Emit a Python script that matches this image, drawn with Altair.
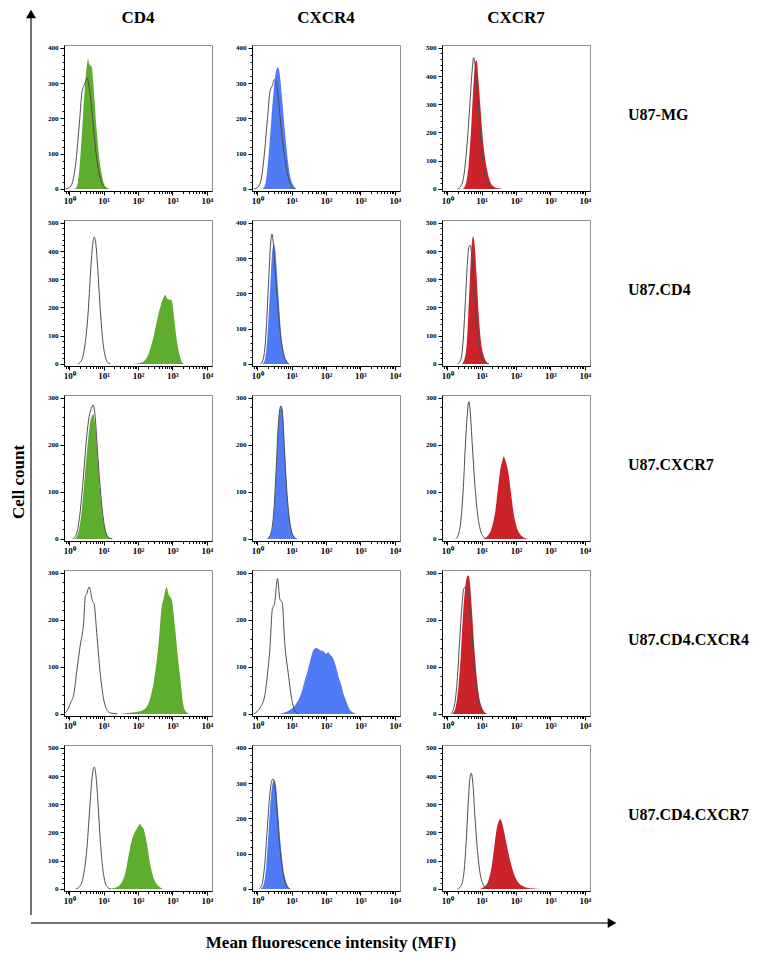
import math
import altair as alt
import pandas as pd

SERIF = "Liberation Serif"

MARKERS = ["CD4", "CXCR4", "CXCR7"]
CELL_LINES = ["U87-MG", "U87.CD4", "U87.CXCR7", "U87.CD4.CXCR4", "U87.CD4.CXCR7"]
MARKER_COLORS = ["#5fad2e", "#4f7cf6", "#cc2229"]
ISO_COLOR = "#4d4d4d"

# y-axis maximum of each panel (rows = cell lines)
YMAX_CD4 = [400, 500, 300, 300, 500]
YMAX_CXCR4 = [400, 400, 300, 300, 400]
YMAX_CXCR7 = [500, 500, 300, 300, 500]

X_TITLE = "Mean fluorescence intensity (MFI)"
Y_TITLE = "Cell count"

# ---- histograms: (log10 fluorescence, cell count) ----
# Row 1: U87-MG
CD4_U87MG = [(0.15, 0), (0.22, 5), (0.3, 60), (0.38, 170), (0.45, 280), (0.5, 340), (0.55, 368), (0.58, 355),
             (0.62, 350), (0.66, 345), (0.7, 300), (0.78, 190), (0.86, 100), (0.95, 40), (1.02, 12), (1.12, 2), (1.2, 0)]
ISO_CD4_U87MG = [(-0.1, 0), (0.0, 3), (0.1, 20), (0.2, 80), (0.3, 190), (0.38, 280), (0.42, 290), (0.48, 305),
                 (0.52, 315), (0.56, 300), (0.62, 260), (0.7, 180), (0.78, 100), (0.88, 40), (0.98, 10), (1.08, 0)]
CXCR4_U87MG = [(0.15, 0), (0.22, 8), (0.3, 60), (0.4, 180), (0.48, 280), (0.55, 335), (0.6, 345), (0.65, 330),
               (0.72, 260), (0.8, 170), (0.88, 90), (0.96, 35), (1.05, 10), (1.15, 0)]
ISO_CXCR4_U87MG = [(-0.1, 0), (0.0, 3), (0.1, 20), (0.2, 90), (0.3, 200), (0.38, 280), (0.43, 290), (0.5, 310),
                   (0.55, 300), (0.62, 250), (0.7, 170), (0.8, 90), (0.9, 35), (1.0, 8), (1.1, 0)]
CXCR7_U87MG = [(0.45, 0), (0.55, 20), (0.62, 80), (0.7, 220), (0.77, 380), (0.82, 450), (0.86, 455), (0.9, 400),
               (0.96, 300), (1.02, 200), (1.1, 110), (1.18, 55), (1.26, 22), (1.36, 8), (1.5, 2), (1.62, 0)]
ISO_CXCR7_U87MG = [(0.3, 0), (0.4, 10), (0.5, 60), (0.58, 160), (0.66, 300), (0.72, 410), (0.77, 465), (0.8, 450),
                   (0.85, 380), (0.92, 260), (1.0, 140), (1.08, 60), (1.16, 20), (1.25, 4), (1.35, 0)]

# Row 2: U87.CD4
CD4_U87CD4 = [(1.85, 0), (2.05, 3), (2.25, 20), (2.45, 95), (2.6, 180), (2.68, 215), (2.74, 235), (2.8, 245),
              (2.84, 232), (2.9, 228), (2.98, 225), (3.06, 150), (3.12, 90), (3.2, 35), (3.28, 5), (3.35, 0)]
ISO_CD4_U87CD4 = [(0.25, 0), (0.35, 10), (0.45, 60), (0.55, 180), (0.62, 320), (0.68, 420), (0.73, 450), (0.78, 420),
                  (0.84, 320), (0.9, 200), (0.97, 90), (1.05, 25), (1.12, 5), (1.2, 0)]
CXCR4_U87CD4 = [(0.15, 0), (0.22, 10), (0.3, 80), (0.38, 220), (0.44, 320), (0.49, 340), (0.53, 320), (0.58, 250),
                (0.64, 160), (0.7, 80), (0.78, 30), (0.86, 8), (0.95, 0)]
ISO_CXCR4_U87CD4 = [(0.1, 0), (0.18, 15), (0.26, 90), (0.33, 230), (0.39, 340), (0.43, 368), (0.47, 340), (0.53, 260),
                    (0.6, 170), (0.67, 90), (0.75, 35), (0.84, 8), (0.92, 0)]
CXCR7_U87CD4 = [(0.42, 0), (0.5, 15), (0.58, 90), (0.64, 250), (0.7, 400), (0.75, 452), (0.8, 420), (0.86, 300),
                (0.92, 170), (0.98, 80), (1.06, 30), (1.14, 8), (1.25, 0)]
ISO_CXCR7_U87CD4 = [(0.3, 0), (0.38, 10), (0.45, 60), (0.52, 200), (0.58, 340), (0.63, 415), (0.67, 420), (0.72, 380),
                    (0.78, 280), (0.85, 160), (0.92, 70), (1.0, 20), (1.1, 3), (1.2, 0)]

# Row 3: U87.CXCR7
CD4_U87CXCR7 = [(0.15, 0), (0.25, 10), (0.35, 50), (0.45, 130), (0.55, 210), (0.63, 255), (0.7, 265), (0.76, 240),
                (0.83, 170), (0.9, 100), (0.98, 45), (1.06, 15), (1.15, 3), (1.25, 0)]
ISO_CD4_U87CXCR7 = [(0.1, 0), (0.2, 8), (0.3, 45), (0.4, 120), (0.5, 210), (0.58, 260), (0.65, 278), (0.7, 285),
                    (0.75, 265), (0.82, 190), (0.9, 110), (0.98, 50), (1.06, 15), (1.15, 3), (1.25, 0)]
CXCR4_U87CXCR7 = [(0.3, 0), (0.4, 10), (0.48, 50), (0.55, 140), (0.6, 220), (0.65, 270), (0.7, 280), (0.74, 270),
                  (0.8, 190), (0.86, 110), (0.93, 50), (1.0, 18), (1.08, 5), (1.15, 0)]
ISO_CXCR4_U87CXCR7 = [(0.3, 0), (0.4, 12), (0.48, 55), (0.55, 145), (0.6, 225), (0.65, 272), (0.69, 283), (0.73, 272),
                      (0.79, 195), (0.85, 115), (0.92, 52), (0.99, 18), (1.07, 4), (1.15, 0)]
CXCR7_U87CXCR7 = [(1.05, 0), (1.2, 8), (1.3, 25), (1.4, 60), (1.48, 110), (1.55, 150), (1.6, 165), (1.64, 175),
                  (1.68, 170), (1.72, 160), (1.78, 140), (1.85, 100), (1.92, 60), (2.0, 30), (2.1, 12), (2.2, 4), (2.35, 0)]
ISO_CXCR7_U87CXCR7 = [(0.25, 0), (0.33, 10), (0.4, 40), (0.47, 110), (0.53, 200), (0.58, 260), (0.63, 292), (0.67, 270),
                      (0.73, 200), (0.8, 120), (0.88, 55), (0.96, 20), (1.05, 5), (1.15, 0)]

# Row 4: U87.CD4.CXCR4
CD4_U87CD4CXCR4 = [(1.45, 0), (1.7, 2), (1.97, 4), (2.21, 11), (2.35, 32), (2.5, 88), (2.6, 152), (2.69, 229),
                   (2.74, 243), (2.8, 265), (2.83, 270), (2.89, 254), (2.98, 243), (3.08, 180), (3.16, 120), (3.23, 74),
                   (3.32, 18), (3.4, 4), (3.5, 0)]
ISO_CD4_U87CD4CXCR4 = [(-0.15, 0), (-0.05, 8), (0.05, 25), (0.13, 40), (0.22, 90), (0.32, 145), (0.42, 194), (0.47, 250),
                       (0.51, 255), (0.58, 270), (0.62, 262), (0.66, 245), (0.73, 232), (0.8, 173), (0.9, 88), (1.0, 32),
                       (1.1, 8), (1.2, 2), (1.4, 0)]
CXCR4_U87CD4CXCR4 = [(0.6, 0), (0.8, 3), (0.95, 8), (1.1, 18), (1.2, 30), (1.29, 46), (1.38, 70), (1.48, 95), (1.58, 124),
                     (1.65, 138), (1.72, 140), (1.78, 138), (1.85, 135), (1.92, 134), (2.0, 128), (2.06, 131), (2.13, 125),
                     (2.21, 118), (2.31, 95), (2.38, 75), (2.45, 60), (2.52, 40), (2.6, 25), (2.68, 10), (2.76, 4), (2.9, 0)]
ISO_CXCR4_U87CD4CXCR4 = [(-0.1, 0), (0.0, 5), (0.1, 15), (0.22, 39), (0.3, 85), (0.37, 138), (0.44, 222), (0.51, 236),
                         (0.59, 288), (0.66, 244), (0.73, 236), (0.8, 152), (0.9, 88), (1.02, 25), (1.1, 6), (1.2, 0)]
CXCR7_U87CD4CXCR4 = [(0.15, 0), (0.25, 15), (0.33, 60), (0.4, 130), (0.46, 210), (0.52, 265), (0.57, 290), (0.62, 295),
                     (0.66, 280), (0.72, 220), (0.78, 150), (0.85, 85), (0.92, 40), (1.0, 15), (1.08, 4), (1.18, 0)]
ISO_CXCR7_U87CD4CXCR4 = [(0.1, 0), (0.2, 15), (0.28, 60), (0.35, 140), (0.42, 220), (0.48, 265), (0.53, 270), (0.58, 268),
                         (0.63, 250), (0.7, 190), (0.77, 120), (0.84, 65), (0.92, 28), (1.0, 8), (1.1, 0)]

# Row 5: U87.CD4.CXCR7
CD4_U87CD4CXCR7 = [(1.15, 0), (1.3, 3), (1.48, 15), (1.63, 56), (1.72, 114), (1.82, 172), (1.9, 200), (1.95, 210),
                   (2.02, 225), (2.06, 230), (2.1, 222), (2.16, 213), (2.26, 160), (2.35, 91), (2.47, 33), (2.6, 9), (2.74, 0)]
ISO_CD4_U87CD4CXCR7 = [(0.2, 0), (0.32, 10), (0.42, 50), (0.52, 150), (0.6, 290), (0.67, 400), (0.73, 432), (0.78, 400),
                       (0.84, 300), (0.9, 180), (0.97, 80), (1.04, 25), (1.12, 5), (1.2, 0)]
CXCR4_U87CD4CXCR7 = [(0.1, 0), (0.18, 10), (0.26, 60), (0.33, 160), (0.4, 260), (0.45, 300), (0.5, 308), (0.55, 290),
                     (0.6, 230), (0.66, 150), (0.73, 80), (0.8, 35), (0.88, 10), (0.97, 0)]
ISO_CXCR4_U87CD4CXCR7 = [(0.05, 0), (0.14, 12), (0.22, 70), (0.3, 180), (0.37, 270), (0.42, 305), (0.46, 312), (0.51, 295),
                         (0.57, 230), (0.63, 150), (0.7, 80), (0.78, 30), (0.86, 8), (0.95, 0)]
CXCR7_U87CD4CXCR7 = [(0.95, 0), (1.1, 10), (1.2, 30), (1.3, 85), (1.38, 160), (1.45, 220), (1.5, 240), (1.55, 248),
                     (1.6, 232), (1.66, 200), (1.74, 150), (1.82, 105), (1.9, 68), (2.0, 36), (2.1, 18), (2.25, 7), (2.45, 2), (2.7, 0)]
ISO_CXCR7_U87CD4CXCR7 = [(0.3, 0), (0.4, 10), (0.48, 50), (0.55, 160), (0.61, 300), (0.66, 390), (0.7, 410), (0.75, 370),
                         (0.8, 270), (0.87, 150), (0.95, 60), (1.03, 20), (1.12, 4), (1.2, 0)]

STAINED = {
    "CD4": [CD4_U87MG, CD4_U87CD4, CD4_U87CXCR7, CD4_U87CD4CXCR4, CD4_U87CD4CXCR7],
    "CXCR4": [CXCR4_U87MG, CXCR4_U87CD4, CXCR4_U87CXCR7, CXCR4_U87CD4CXCR4, CXCR4_U87CD4CXCR7],
    "CXCR7": [CXCR7_U87MG, CXCR7_U87CD4, CXCR7_U87CXCR7, CXCR7_U87CD4CXCR4, CXCR7_U87CD4CXCR7],
}
ISOTYPE = {
    "CD4": [ISO_CD4_U87MG, ISO_CD4_U87CD4, ISO_CD4_U87CXCR7, ISO_CD4_U87CD4CXCR4, ISO_CD4_U87CD4CXCR7],
    "CXCR4": [ISO_CXCR4_U87MG, ISO_CXCR4_U87CD4, ISO_CXCR4_U87CXCR7, ISO_CXCR4_U87CD4CXCR4, ISO_CXCR4_U87CD4CXCR7],
    "CXCR7": [ISO_CXCR7_U87MG, ISO_CXCR7_U87CD4, ISO_CXCR7_U87CXCR7, ISO_CXCR7_U87CD4CXCR4, ISO_CXCR7_U87CD4CXCR7],
}
YMAX = {"CD4": YMAX_CD4, "CXCR4": YMAX_CXCR4, "CXCR7": YMAX_CXCR7}

# ---- layout ----
W, H = 148, 146
XDOM = [-0.15, 4.15]
LEFT_W, LEFT_H = 30, 870

major = [0, 1, 2, 3, 4]
minor = [round(math.log10(k) + d, 5) for d in range(-1, 4) for k in range(2, 10)]
XTICKS = sorted(set(major + [v for v in minor if XDOM[0] < v < XDOM[1]]))
IS_MAJOR_X = "abs(datum.value - round(datum.value)) < 0.00001"
X_LABEL = IS_MAJOR_X + " ? '10' + ['\u2070','\u00b9','\u00b2','\u00b3','\u2074'][round(datum.value)] : ''"


def panel(mi, ri):
    marker = MARKERS[mi]
    ymax = YMAX[marker][ri]
    xscale = alt.Scale(domain=XDOM, nice=False, zero=False)
    yscale = alt.Scale(domain=[-0.015 * ymax, 1.02 * ymax], nice=False, zero=False)
    xaxis = alt.Axis(values=XTICKS, labelExpr=X_LABEL, labelOverlap=False, labelFlush=False,
                     labelFontSize=9, labelPadding=1, grid=False,
                     tickSize={"condition": {"test": IS_MAJOR_X, "value": 4}, "value": 2.5})
    yaxis = alt.Axis(values=list(range(0, ymax + 1, 20)),
                     labelExpr="datum.value % 100 == 0 ? datum.value : ''",
                     labelOverlap=False, labelFontSize=7, labelPadding=2, grid=False,
                     tickSize={"condition": {"test": "datum.value % 100 == 0", "value": 4}, "value": 2})
    s = pd.DataFrame(STAINED[marker][ri], columns=["logx", "count"])
    iso = pd.DataFrame(ISOTYPE[marker][ri], columns=["logx", "count"])
    area = alt.Chart(s).mark_area(color=MARKER_COLORS[mi], interpolate="monotone").encode(
        x=alt.X("logx:Q", scale=xscale, axis=xaxis, title=None),
        y=alt.Y("count:Q", scale=yscale, axis=yaxis, title=None),
    )
    line = alt.Chart(iso).mark_line(color=ISO_COLOR, strokeWidth=1, interpolate="monotone").encode(
        x=alt.X("logx:Q", scale=xscale, axis=xaxis, title=None),
        y=alt.Y("count:Q", scale=yscale, axis=yaxis, title=None),
    )
    layers = [area, line]
    if mi == 2:
        lab = alt.Chart(pd.DataFrame({"t": [CELL_LINES[ri]]})).mark_text(
            align="left", baseline="middle", font=SERIF, fontWeight="bold", fontSize=16, color="black"
        ).encode(text="t:N", x=alt.value(W + 38), y=alt.value(H / 2 - 3))
        layers.append(lab)
    if ri == 0:
        head = alt.Chart(pd.DataFrame({"t": [marker]})).mark_text(
            align="center", baseline="middle", font=SERIF, fontWeight="bold", fontSize=17, color="black"
        ).encode(text="t:N", x=alt.value(W / 2), y=alt.value(-27))
        layers.append(head)
    return alt.layer(*layers).properties(width=W, height=H)


cols = [alt.vconcat(*[panel(mi, ri) for ri in range(5)], spacing=12) for mi in range(3)]
grid = alt.hconcat(alt.hconcat(cols[0], cols[1], spacing=21), cols[2], spacing=23)

nostroke = alt.ViewBackground(stroke="transparent")
ydf = pd.DataFrame({"t": [Y_TITLE]})
left = alt.layer(
    alt.Chart(ydf).mark_rule(color="#444", strokeWidth=1.5).encode(
        x=alt.value(22), y=alt.value(-28), y2=alt.value(LEFT_H)),
    alt.Chart(ydf).mark_point(shape="triangle-up", filled=True, color="black", size=100, opacity=1).encode(
        x=alt.value(22), y=alt.value(-31)),
    alt.Chart(ydf).mark_text(angle=270, font=SERIF, fontWeight="bold", fontSize=17, color="black",
                             baseline="middle", align="center").encode(
        text="t:N", x=alt.value(10), y=alt.value(437)),
).properties(width=LEFT_W, height=LEFT_H, view=nostroke)

xdf = pd.DataFrame({"t": [X_TITLE]})
bottom = alt.layer(
    alt.Chart(xdf).mark_rule(color="#444", strokeWidth=1.5).encode(
        x=alt.value(22), x2=alt.value(600), y=alt.value(0)),
    alt.Chart(xdf).mark_point(shape="triangle-right", filled=True, color="black", size=100, opacity=1).encode(
        x=alt.value(603), y=alt.value(0)),
    alt.Chart(xdf).mark_text(font=SERIF, fontWeight="bold", fontSize=17, color="black",
                             baseline="middle", align="center").encode(
        text="t:N", x=alt.value(322), y=alt.value(20)),
).properties(width=620, height=29, view=nostroke)

chart = alt.vconcat(
    alt.hconcat(left, grid, spacing=7),
    bottom,
    spacing=0,
).properties(padding=0).configure_view(
    stroke="#8c8c8c", strokeWidth=1
).configure_axis(
    domainColor="black", tickColor="black", labelColor="black", labelFont=SERIF, labelFontWeight="bold",
    domainWidth=1, tickWidth=1
)

chart.save("out.html", embed_options={"renderer": "svg", "actions": False})
